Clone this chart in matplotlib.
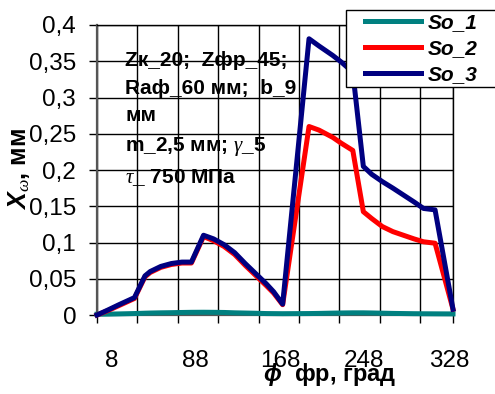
import matplotlib
matplotlib.use('Agg')
import matplotlib.pyplot as plt
from matplotlib.patches import Rectangle

plt.rcParams['font.family'] = ['Liberation Sans', 'DejaVu Sans']
plt.rcParams['mathtext.fontset'] = 'custom'
plt.rcParams['mathtext.it'] = 'Liberation Serif:italic'
plt.rcParams['mathtext.bf'] = 'Liberation Sans:bold:italic'
plt.rcParams['mathtext.rm'] = 'Liberation Sans'

# углы фрезы, град
phi = [-5.5, 5, 15, 30, 40, 45, 55, 65, 75, 84, 95.5, 105, 115, 125, 135, 145,
       155, 162, 170.5, 195.5, 205, 218, 226, 237, 247, 255, 265, 275, 285,
       295, 304, 315, 332]

so_1 = [0.001, 0.0012, 0.0015, 0.002, 0.0025, 0.0027, 0.003, 0.0032, 0.0035,
        0.0037, 0.0038, 0.0037, 0.0035, 0.003, 0.0027, 0.0024, 0.002, 0.0019,
        0.0018, 0.002, 0.0022, 0.0026, 0.0028, 0.003, 0.003, 0.0028, 0.0025,
        0.0022, 0.002, 0.0018, 0.0017, 0.0016, 0.0015]

so_2 = [0.0, 0.0062, 0.0128, 0.0228, 0.0527, 0.0587, 0.0657, 0.0697, 0.0717,
        0.0717, 0.1082, 0.1025, 0.0945, 0.0835, 0.0685, 0.0545, 0.0405, 0.0302,
        0.0142, 0.260, 0.255, 0.245, 0.237, 0.227, 0.1425, 0.133, 0.122, 0.115,
        0.110, 0.105, 0.101, 0.099, 0.008]

so_3 = [0.0, 0.007, 0.014, 0.024, 0.054, 0.060, 0.067, 0.071, 0.073, 0.073,
        0.110, 0.105, 0.097, 0.086, 0.071, 0.057, 0.043, 0.032, 0.015, 0.381,
        0.371, 0.358, 0.349, 0.335, 0.205, 0.194, 0.184, 0.175, 0.1655, 0.156,
        0.147, 0.145, 0.008]

x_labels = [8, 88, 168, 248, 328]
x_grid = [32.8, 71.1, 109.4, 147.7, 186.0, 224.3, 262.6, 300.9]
y_ticks = [0, 0.05, 0.1, 0.15, 0.2, 0.25, 0.3, 0.35, 0.4]
y_labels = ['0', '0,05', '0,1', '0,15', '0,2', '0,25', '0,3', '0,35', '0,4']

fig = plt.figure(figsize=(4.95, 3.94), dpi=100)
ax = fig.add_axes([97/495, 1-315/394, 356/495, 290/394])

ax.plot(phi, so_1, color='#008080', lw=3.6, label='So_1', clip_on=False, zorder=3)
ax.plot(phi, so_2, color='#ff0000', lw=3.6, label='So_2', clip_on=False, zorder=4)
ax.plot(phi, so_3, color='#000080', lw=3.6, label='So_3', clip_on=False, zorder=5)

ax.set_xlim(-5.5, 332)
ax.set_ylim(0, 0.4)
ax.set_xticks(x_labels)
ax.set_xticklabels([str(v) for v in x_labels])
ax.set_xticks([-5.5] + x_grid + [332], minor=True)
ax.set_yticks(y_ticks)
ax.set_yticklabels(y_labels)
ax.tick_params(axis='x', which='major', length=0, pad=25, labelsize=17.5)
ax.tick_params(axis='x', which='minor', length=6, width=1, direction='out')
ax.tick_params(axis='y', length=6, width=1, direction='out', pad=9, labelsize=17.5)

ax.grid(True, axis='y', color='black', lw=1)
ax.grid(True, axis='x', which='minor', color='black', lw=1)
ax.set_axisbelow(True)
for s in ax.spines.values():
    s.set_color('black')
    s.set_linewidth(1)
ax.spines['left'].set_color('#555555')
ax.spines['left'].set_linewidth(1.6)
ax.spines['bottom'].set_color('#555555')
ax.spines['bottom'].set_linewidth(1.6)

# подписи осей
fig.text(19/495, 1-169/394, r'$\mathbf{X}_{\omega}$, мм', rotation=90,
         ha='center', va='center', fontsize=18, fontweight='bold')
fig.text(263/495, 1-381/394, r'$\mathbf{\phi}$  фр, град', ha='left',
         va='baseline', fontsize=17, fontweight='bold')

note = ('Zк_20;  Zфр_45;\n'
        'Rаф_60 мм;  b_9\n'
        'мм\n'
        'm_2,5 мм; $\\gamma$_5\n'
        '$\\tau$_ 750 МПа')
ax.text(125/495, 1-51/394, note, transform=fig.transFigure, ha='left', va='top',
        fontsize=15, fontweight='bold', linespacing=1.58, zorder=6)

# легенда
fig.patches.append(Rectangle((346/495, 1-87/394), 0.4, 77/394,
                             transform=fig.transFigure, facecolor='white',
                             edgecolor='black', lw=1, zorder=5))
leg = fig.legend(loc='upper left', bbox_to_anchor=(361/495, 1-9/394),
                 frameon=False, handlelength=2.7, handletextpad=0.3,
                 labelspacing=0.33, borderpad=0.2, borderaxespad=0,
                 prop={'family': 'Liberation Sans', 'weight': 'bold',
                       'style': 'italic', 'size': 15})
leg.set_zorder(6)

fig.savefig('out.png', dpi=100)
